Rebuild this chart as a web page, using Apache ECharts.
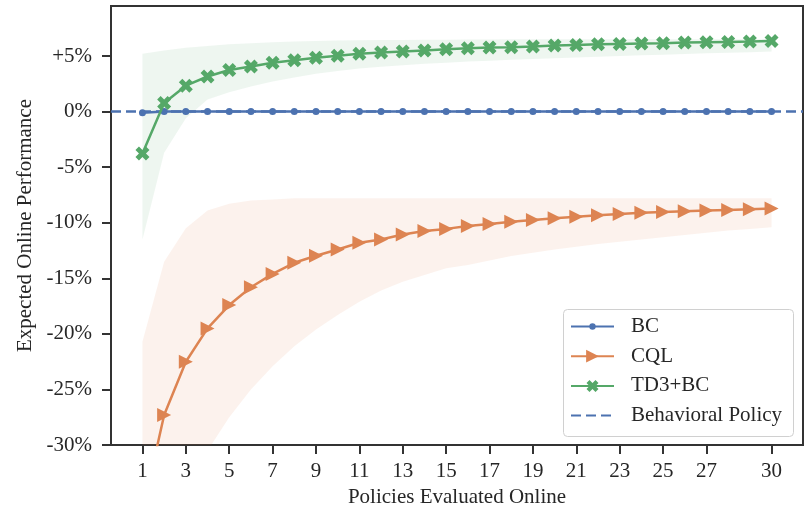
<!DOCTYPE html>
<html>
<head>
<meta charset="utf-8">
<script src="https://cdn.jsdelivr.net/npm/echarts@6/dist/echarts.min.js"></script>
<style>
html,body{margin:0;padding:0;background:#fff;}
#chart{width:809px;height:513px;}
</style>
</head>
<body>
<div id="chart"></div>
<script>
const xValues = [1,2,3,4,5,6,7,8,9,10,11,12,13,14,15,16,17,18,19,20,21,22,23,24,25,26,27,28,29,30];
const bcValues = [-0.1,0,0,0,0,0,0,0,0,0,0,0,0,0,0,0,0,0,0,0,0,0,0,0,0,0,0,0,0,0];
const cqlValues = [-36,-27.3,-22.5,-19.5,-17.4,-15.8,-14.6,-13.6,-12.97,-12.4,-11.8,-11.5,-11.05,-10.75,-10.55,-10.3,-10.1,-9.9,-9.75,-9.6,-9.45,-9.32,-9.2,-9.1,-9.02,-8.96,-8.9,-8.84,-8.78,-8.72];
const td3bcValues = [-3.76,0.78,2.33,3.16,3.74,4.06,4.39,4.63,4.84,5.02,5.2,5.31,5.4,5.5,5.62,5.71,5.77,5.8,5.85,5.94,6.0,6.06,6.09,6.12,6.15,6.21,6.24,6.27,6.3,6.36];
const cqlLower = [-70,-50,-38,-30.5,-27.5,-25.0,-22.9,-21.1,-19.6,-18.3,-17.1,-16.1,-15.3,-14.7,-14.1,-13.8,-13.4,-13.0,-12.7,-12.4,-12.15,-11.9,-11.7,-11.5,-11.3,-11.1,-10.9,-10.7,-10.55,-10.4];
const cqlUpper = [-20.7,-13.5,-10.5,-8.9,-8.3,-8.0,-7.9,-7.8,-7.8,-7.8,-7.8,-7.8,-7.8,-7.8,-7.8,-7.8,-7.8,-7.8,-7.8,-7.8,-7.8,-7.8,-7.8,-7.8,-7.8,-7.8,-7.8,-7.8,-7.8,-7.8];
const td3bcLower = [-11.5,-3.7,-0.6,1.1,1.75,2.25,2.7,3.07,3.4,3.65,3.87,4.03,4.18,4.3,4.4,4.5,4.58,4.66,4.73,4.8,4.87,4.94,5.0,5.06,5.12,5.18,5.24,5.29,5.35,5.4];
const td3bcUpper = [5.2,5.5,5.75,5.9,6.05,6.15,6.25,6.3,6.35,6.4,6.42,6.44,6.45,6.46,6.47,6.48,6.49,6.5,6.5,6.5,6.5,6.5,6.5,6.5,6.5,6.5,6.5,6.5,6.5,6.5];
const behavioralLevel = 0;
const xMin = -0.45, xMax = 31.45;
const yMin = -30, yMax = 9.5;
const xTickValues = [1,3,5,7,9,11,13,15,17,19,21,23,25,27,30];
const yTickValues = [-30,-25,-20,-15,-10,-5,0,5];
const seriesNames = ['BC','CQL','TD3+BC','Behavioral Policy'];

const FONT = 'Liberation Serif, Times New Roman, serif';
const TXT = '#262626';
const AX = '#333333';
const BLUE = '#4C72B0', ORANGE = '#DD8452', GREEN = '#55A868';
const X_PATH = 'path://M75,0L100,25L75,50L100,75L75,100L50,75L25,100L0,75L25,50L0,25L25,0L50,25Z';
const TRI_PATH = 'path://M0,0L100,50L0,100Z';

const pairs = (ys) => xValues.map((x, i) => [x, ys[i]]);

function bandSeries(name, lo, hi, color) {
  return {
    name: name, type: 'custom', silent: true, z: 1,
    data: xValues.map((x, i) => [x, lo[i], hi[i]]),
    encode: {x: 0, y: [1, 2]},
    renderItem: function (params, api) {
      if (params.dataIndex !== 0) return null;
      const pts = [];
      for (let i = 0; i < xValues.length; i++) pts.push(api.coord([xValues[i], hi[i]]));
      for (let i = xValues.length - 1; i >= 0; i--) pts.push(api.coord([xValues[i], lo[i]]));
      const cs = params.coordSys;
      return {
        type: 'polygon',
        shape: {points: pts},
        style: {fill: color, opacity: 0.1, stroke: null},
        clipPath: {type: 'rect', shape: {x: cs.x, y: cs.y, width: cs.width, height: cs.height}}
      };
    }
  };
}

// legend layout (one component per entry so each symbol keeps its own size)
const legendLeft = 563, legendTop = 309, legendW = 230, legendH = 127;
const legendFirstCenter = 326.5, legendStep = 29.7;
const legendIconH = [8, 16, 15, 14];
const legendTextStyle = {fontFamily: FONT, fontSize: 21, color: TXT, padding: [0, 0, 0, 12], lineHeight: 21};
const legends = seriesNames.map((n, i) => {
  const ih = legendIconH[i];
  const item = {name: n};
  if (n === 'Behavioral Policy') item.itemStyle = {opacity: 0};
  return {
    data: [item], orient: 'vertical', left: legendLeft + 7,
    top: legendFirstCenter + i * legendStep - Math.max(ih, 21) / 2,
    padding: 0, itemWidth: 43, itemHeight: ih, selectedMode: false,
    textStyle: legendTextStyle, z: 100
  };
});

const chart = echarts.init(document.getElementById('chart'), null, {renderer: 'canvas'});
chart.setOption({
  animation: false,
  backgroundColor: '#ffffff',
  grid: {left: 111, right: 6, top: 6, bottom: 66, show: true, borderColor: AX, borderWidth: 2, backgroundColor: 'transparent'},
  graphic: [{
    type: 'rect', left: legendLeft, top: legendTop, z: 90,
    shape: {width: legendW, height: legendH, r: 4},
    style: {fill: 'rgba(255,255,255,0.85)', stroke: '#d0d0d0', lineWidth: 1}
  }],
  legend: legends,
  xAxis: {
    type: 'value', min: xMin, max: xMax,
    name: 'Policies Evaluated Online', nameLocation: 'middle', nameGap: 39,
    nameTextStyle: {fontFamily: FONT, fontSize: 21, color: TXT},
    axisLine: {show: true, onZero: false, lineStyle: {color: AX, width: 2}},
    axisTick: {show: true, inside: false, length: 9, customValues: xTickValues, lineStyle: {color: AX, width: 2}},
    axisLabel: {customValues: xTickValues, margin: 16, fontFamily: FONT, fontSize: 21, color: TXT},
    splitLine: {show: false}
  },
  yAxis: {
    type: 'value', min: yMin, max: yMax, interval: 5,
    name: 'Expected Online Performance', nameLocation: 'middle', nameGap: 66, nameRotate: 90,
    nameTextStyle: {fontFamily: FONT, fontSize: 21, color: TXT},
    axisLine: {show: true, onZero: false, lineStyle: {color: AX, width: 2}},
    axisTick: {show: true, inside: false, length: 9, customValues: yTickValues, lineStyle: {color: AX, width: 2}},
    axisLabel: {customValues: yTickValues, margin: 19, fontFamily: FONT, fontSize: 21, color: TXT,
      formatter: (v) => (v > 0 ? '+' + v : '' + v) + '%'},
    splitLine: {show: false}
  },
  series: [
    bandSeries('cqlBand', cqlLower, cqlUpper, ORANGE),
    bandSeries('td3bcBand', td3bcLower, td3bcUpper, GREEN),
    {name: 'Behavioral Policy', type: 'line', data: [[xMin, behavioralLevel], [xMax, behavioralLevel]],
      symbol: 'none', lineStyle: {color: BLUE, width: 2.5, type: [10, 5]}, itemStyle: {color: BLUE}, z: 2},
    {name: 'BC', type: 'line', data: pairs(bcValues), symbol: 'circle', symbolSize: 7,
      lineStyle: {color: BLUE, width: 2.5}, itemStyle: {color: BLUE}, z: 3},
    {name: 'CQL', type: 'line', data: pairs(cqlValues), symbol: TRI_PATH, symbolSize: 14, symbolKeepAspect: true,
      lineStyle: {color: ORANGE, width: 2.5}, itemStyle: {color: ORANGE}, z: 4},
    {name: 'TD3+BC', type: 'line', data: pairs(td3bcValues), symbol: X_PATH, symbolSize: 14, symbolKeepAspect: true,
      lineStyle: {color: GREEN, width: 2.5}, itemStyle: {color: GREEN}, z: 5}
  ]
});
</script>
</body>
</html>
